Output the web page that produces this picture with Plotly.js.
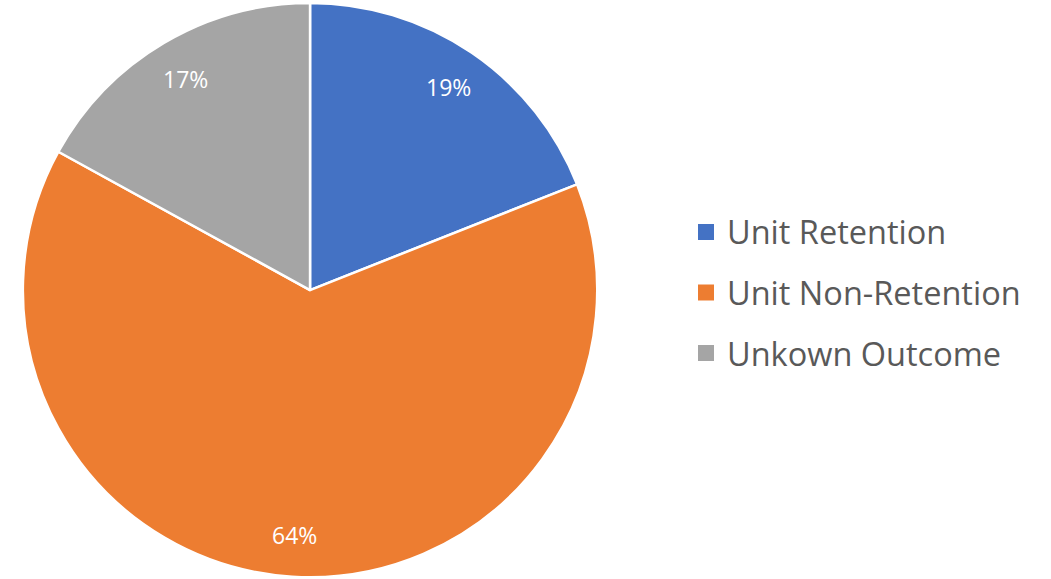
<!DOCTYPE html>
<html>
<head>
<meta charset="utf-8">
<script src="https://cdn.plot.ly/plotly-3.0.1.min.js"></script>
<style>html,body{margin:0;padding:0;background:#fff;}#chart{width:1051px;height:579px;}</style>
</head>
<body>
<div id="chart"></div>
<script>
var categories = ["Unit Retention", "Unit Non-Retention", "Unkown Outcome"];
var values = [19, 64, 17];
var colors = ["#4472C4", "#ED7D31", "#A5A5A5"];

var W = 1051, H = 579;
var dom = {x: [0, 0.59], y: [0.003, 0.995]};

var trace = {
  type: "pie",
  labels: categories,
  values: values,
  sort: false,
  direction: "clockwise",
  rotation: 0,
  marker: {colors: colors, line: {color: "#ffffff", width: 2.5}},
  textinfo: "none",
  hoverinfo: "label+percent",
  domain: dom,
  showlegend: false
};

// label positions derived from the slice mid-angles
var total = values.reduce(function (a, b) { return a + b; }, 0);
var cxPx = (dom.x[0] + dom.x[1]) / 2 * W;
var cyPx = (1 - (dom.y[0] + dom.y[1]) / 2) * H;
var Rpx = Math.min((dom.x[1] - dom.x[0]) * W, (dom.y[1] - dom.y[0]) * H) / 2;
var annotations = [];
var cum = 0;
values.forEach(function (v) {
  var mid = (cum + v / 2) / total * 2 * Math.PI;
  cum += v;
  var r = 0.855 * Rpx;
  var px = cxPx + r * Math.sin(mid);
  var py = cyPx - r * Math.cos(mid);
  annotations.push({
    xref: "paper", yref: "paper",
    x: px / W, y: 1 - py / H,
    xanchor: "center", yanchor: "middle",
    text: Math.round(v / total * 100) + "%",
    showarrow: false,
    font: {family: "Open Sans, sans-serif", size: 23, color: "#ffffff"}
  });
});

// legend drawn as squares + text
var shapes = [];
var legX = 698, legTextX = 725, legY0 = 232, legGap = 60.5, sq = 16;
categories.forEach(function (c, i) {
  var y = legY0 + i * legGap;
  shapes.push({
    type: "rect", xref: "paper", yref: "paper",
    x0: legX / W, x1: (legX + sq) / W,
    y0: 1 - (y + sq / 2) / H, y1: 1 - (y - sq / 2) / H,
    fillcolor: colors[i], line: {width: 0}
  });
  annotations.push({
    xref: "paper", yref: "paper",
    x: legTextX / W, y: 1 - y / H,
    xanchor: "left", yanchor: "middle",
    text: c, showarrow: false,
    font: {family: "Open Sans, sans-serif", size: 32.5, color: "#595959"}
  });
});

var layout = {
  width: W,
  height: H,
  margin: {l: 0, r: 0, t: 0, b: 0},
  paper_bgcolor: "#ffffff",
  showlegend: false,
  annotations: annotations,
  shapes: shapes
};

Plotly.newPlot("chart", [trace], layout, {displayModeBar: false, staticPlot: true});
</script>
</body>
</html>
